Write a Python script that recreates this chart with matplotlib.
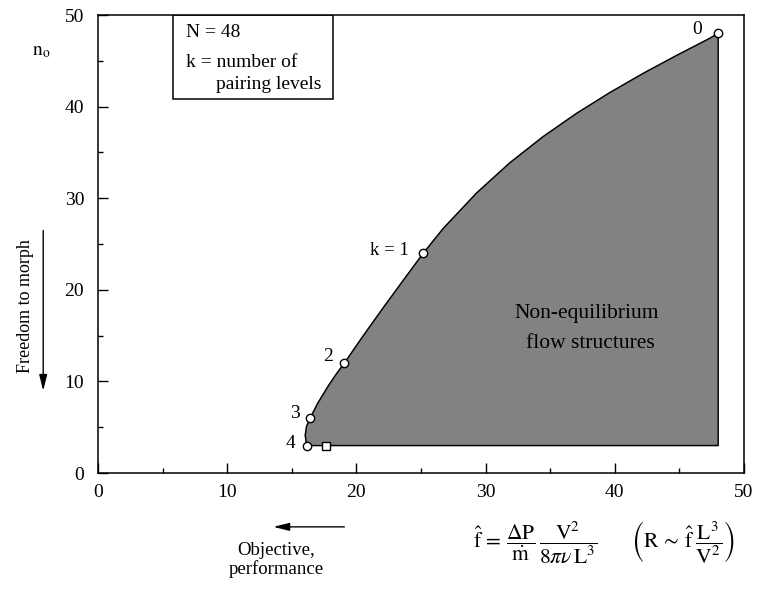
import matplotlib
matplotlib.use("Agg")
import matplotlib.pyplot as plt
from matplotlib.patches import Rectangle, FancyArrowPatch

plt.rcParams['font.family'] = ['Liberation Serif', 'DejaVu Serif']
plt.rcParams['mathtext.fontset'] = 'stix'

# Boundary curve (from k = 4 up to k = 0)
curve_x = [16.15, 16.04, 16.14, 16.43, 17.0, 17.8, 18.4, 19.07, 20.5, 22.0, 23.6,
           25.18, 26.73, 29.31, 31.89, 34.47, 37.05, 39.63, 42.2, 44.79, 47.37, 48.0]
curve_y = [3.0, 4.1, 5.1, 6.0, 7.6, 9.45, 10.72, 12.0, 14.92, 17.89, 20.98,
           24.0, 26.71, 30.58, 33.88, 36.74, 39.27, 41.54, 43.63, 45.59, 47.47, 48.0]

# pairing levels k and their points
k_labels = ['0', 'k = 1', '2', '3', '4']
k_x = [48.0, 25.18, 19.07, 16.43, 16.15]
k_y = [48, 24, 12, 6, 3]

square_x = [17.65]
square_y = [3]

fig = plt.figure(figsize=(7.58, 5.90), dpi=100)
ax = fig.add_axes([98 / 758, 1 - 473 / 590, (744 - 98) / 758, (473 - 15) / 590])

# shaded region: curve, then down the right edge, then along n0 = 3
poly_x = curve_x + [curve_x[-1], curve_x[0]]
poly_y = curve_y + [curve_y[0], curve_y[0]]
ax.fill(poly_x, poly_y, color='#828282', zorder=1)
ax.plot(poly_x, poly_y, color='black', lw=1.0, zorder=2, solid_joinstyle='round')

ax.plot(k_x, k_y, 'o', ms=6, mfc='white', mec='black', mew=1.0, zorder=3)
ax.plot(square_x, square_y, 's', ms=5.5, mfc='white', mec='black', mew=1.0, zorder=3)

# point labels
ax.text(46.4, 48.4, k_labels[0], fontsize=14, ha='center', va='center')
ax.text(24.1, 24.3, k_labels[1], fontsize=13.5, ha='right', va='center')
ax.text(17.8, 12.7, k_labels[2], fontsize=14, ha='center', va='center')
ax.text(15.25, 6.5, k_labels[3], fontsize=14, ha='center', va='center')
ax.text(14.9, 3.2, k_labels[4], fontsize=14, ha='center', va='center')

ax.text(37.8, 17.4, 'Non-equilibrium', fontsize=15.5, ha='center', va='center')
ax.text(38.1, 14.1, 'flow structures', fontsize=15.5, ha='center', va='center')

# legend-like box in the upper left
ax.add_patch(Rectangle((5.8, 40.8), 12.4, 9.2, fill=False, ec='black', lw=1.1, zorder=4))
ax.text(6.8, 48.1, 'N = 48', fontsize=14, ha='left', va='center')
ax.text(6.8, 44.8, 'k = number of', fontsize=14, ha='left', va='center')
ax.text(9.1, 42.4, 'pairing levels', fontsize=14, ha='left', va='center')

ax.set_xlim(0, 50)
ax.set_ylim(0, 50)
ax.set_xticks([0, 10, 20, 30, 40, 50])
ax.set_yticks([0, 10, 20, 30, 40, 50])
ax.set_xticks(range(5, 50, 10), minor=True)
ax.set_yticks(range(5, 50, 10), minor=True)
ax.tick_params(which='both', direction='in', top=False, right=False, labelsize=14, width=1.0)
ax.tick_params(which='major', length=7)
ax.tick_params(which='minor', length=3.5)
ax.tick_params(axis='y', pad=10)
ax.tick_params(axis='x', pad=8)
for s in ax.spines.values():
    s.set_linewidth(1.1)

# axis annotations outside the frame
fig.text(0.055, 0.912, r'$\mathrm{n}_{\mathrm{o}}$', fontsize=14, ha='center', va='center')
fig.text(0.033, 0.482, 'Freedom to morph', fontsize=13, rotation=90, ha='center', va='center')
fig.add_artist(FancyArrowPatch((0.057, 0.614), (0.057, 0.333), transform=fig.transFigure,
                               arrowstyle='-|>,head_length=0.8,head_width=0.2', mutation_scale=12,
                               lw=1.0, color='black'))
fig.add_artist(FancyArrowPatch((0.458, 0.107), (0.357, 0.107), transform=fig.transFigure,
                               arrowstyle='-|>,head_length=0.8,head_width=0.2', mutation_scale=12,
                               lw=1.0, color='black'))
fig.text(0.364, 0.051, 'Objective,\nperformance', fontsize=13.5, ha='center', va='center', linespacing=1.1)

fig.text(0.706, 0.081, r'$\hat{\mathrm{f}}\,=\,\dfrac{\Delta\mathrm{P}}{\dot{\mathrm{m}}}\,\dfrac{\mathrm{V}^2}{8\pi\nu\,\mathrm{L}^3}$',
         fontsize=15.5, ha='center', va='center')
fig.text(0.901, 0.081, r'$\left(\mathrm{R}\,\sim\,\hat{\mathrm{f}}\;\dfrac{\mathrm{L}^3}{\mathrm{V}^2}\right)$',
         fontsize=15.5, ha='center', va='center')

fig.savefig('out.png', dpi=100)
plt.close(fig)
